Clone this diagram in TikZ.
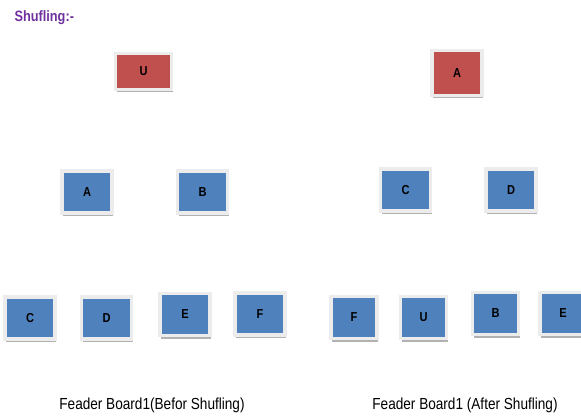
\documentclass[tikz,border=0pt]{standalone}
\usepackage{fontspec}
\setmainfont{Liberation Sans}
\newfontfamily\narrowfont{Liberation Sans}[FakeStretch=0.85]
\usetikzlibrary{shadows}
\definecolor{tilered}{HTML}{C0504D}
\definecolor{tileblue}{HTML}{4F81BD}
\definecolor{titlepurple}{HTML}{7030A0}
\tikzset{
  tile/.style={draw=gray!15, line width=3.5pt, fill=tileblue,
    minimum width=50pt, minimum height=42pt, inner sep=0pt,
    font=\narrowfont\fontsize{13}{15}\selectfont\bfseries,
    drop shadow={shadow xshift=1pt, shadow yshift=-3pt, fill=gray!60, opacity=1}},
  redtile/.style={tile, fill=tilered},
  caption/.style={font=\narrowfont\fontsize{16}{18}\selectfont}
}
\begin{document}
\begin{tikzpicture}[x=1pt, y=-1pt]
    \useasboundingbox (0,0) rectangle (581,417);
    % Title
    \node[anchor=west, text=titlepurple, font=\narrowfont\fontsize{15}{17}\selectfont\bfseries]
        (title) at (11,18) {Shufling:-};
    
    % Before shuffling
    \node[redtile, minimum width=56pt, minimum height=36pt] (uL) at (143.5,71.5) {U};
    \node[tile] (aL) at (87,192) {A};
    \node[tile] (bL) at (202.5,192) {B};
    \foreach \x/\y/\name/\txt in {30/318/cL/C, 106.5/318/dL/D, 185/314.5/eL/E, 260/314/fL/F} {
        \node[tile] (\name) at (\x,\y) {\txt};
    }
    \node[caption] (capL) at (152,405) {Feader Board1(Befor Shufling)};
    
    % After shuffling
    \node[redtile, minimum height=45pt] (aR) at (457,73) {A};
    \node[tile] (cR) at (405.5,190) {C};
    \node[tile] (dR) at (511,190) {D};
    \foreach \x/\y/\name/\txt in {354/317.5/fR/F, 423.5/317.5/uR/U, 495.5/313.5/bR/B, 563/313.5/eR/E} {
        \node[tile, minimum width=46pt] (\name) at (\x,\y) {\txt};
    }
    \node[caption] (capR) at (465,405) {Feader Board1 (After Shufling)};
    
\end{tikzpicture}
\end{document}
